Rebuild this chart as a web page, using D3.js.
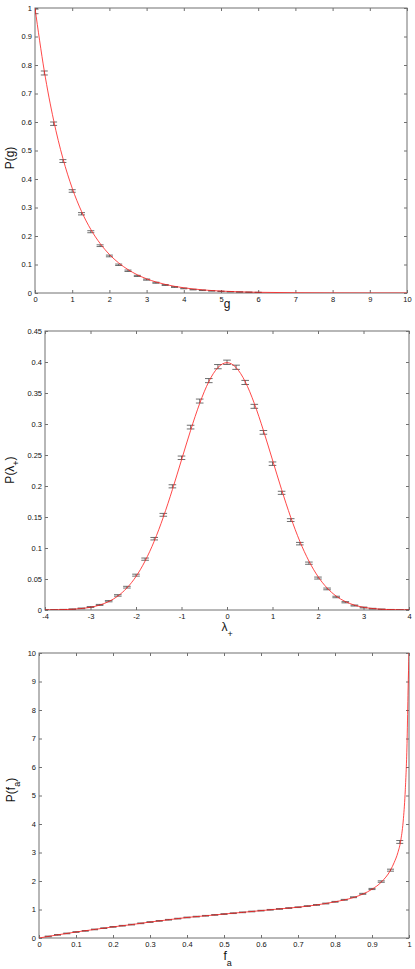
<!DOCTYPE html>
<html>
<head>
<meta charset="utf-8">
<script src="https://cdn.jsdelivr.net/npm/d3@7"></script>
<style>
  body { margin: 0; background: #fff; }
  svg { display: block; }
  text { font-family: "Liberation Sans", Arial, Helvetica, sans-serif; }
</style>
</head>
<body>
<svg id="chart" width="415" height="969"></svg>
<script>
// ---- panel 1: P(g) ----
const p1X = [0, 0.25, 0.5, 0.75, 1, 1.25, 1.5, 1.75, 2, 2.25, 2.5, 2.75, 3, 3.25, 3.5, 3.75, 4, 4.25, 4.5, 4.75, 5, 5.25, 5.5, 5.75, 6];
const p1Y = [0.988, 0.772, 0.594, 0.463, 0.358, 0.278, 0.215, 0.166, 0.130, 0.099, 0.078, 0.060, 0.047, 0.036, 0.028, 0.021, 0.016, 0.012, 0.0095, 0.0075, 0.0058, 0.0045, 0.0035, 0.0027, 0.0021];
const p1Err = [0.008, 0.007, 0.006, 0.005, 0.0045, 0.004, 0.0035, 0.003, 0.003, 0.0025, 0.0025, 0.002, 0.002, 0.0018, 0.0016, 0.0014, 0.0012, 0.0011, 0.001, 0.0009, 0.0008, 0.0007, 0.0006, 0.0006, 0.0005];
const p1CurveX = [0, 0.25, 0.5, 0.75, 1, 1.25, 1.5, 1.75, 2, 2.25, 2.5, 2.75, 3, 3.25, 3.5, 3.75, 4, 4.5, 5, 5.5, 6, 7, 8, 9, 10];
const p1CurveY = [1, 0.7788, 0.6065, 0.4724, 0.3679, 0.2865, 0.2231, 0.1738, 0.1353, 0.1054, 0.0821, 0.0639, 0.0498, 0.0388, 0.0302, 0.0235, 0.0183, 0.0111, 0.0067, 0.0041, 0.0025, 0.0009, 0.0003, 0.0001, 0.00005];
const p1XTicks = [0, 1, 2, 3, 4, 5, 6, 7, 8, 9, 10];
const p1XLabels = ['0', '1', '2', '3', '4', '5', '6', '7', '8', '9', '10'];
const p1YTicks = [0, 0.1, 0.2, 0.3, 0.4, 0.5, 0.6, 0.7, 0.8, 0.9, 1];
const p1YLabels = ['0', '0.1', '0.2', '0.3', '0.4', '0.5', '0.6', '0.7', '0.8', '0.9', '1'];

// ---- panel 2: P(lambda+) ----
const p2X = [-4, -3.8, -3.6, -3.4, -3.2, -3, -2.8, -2.6, -2.4, -2.2, -2, -1.8, -1.6, -1.4, -1.2, -1, -0.8, -0.6, -0.4, -0.2, 0,
             0.2, 0.4, 0.6, 0.8, 1, 1.2, 1.4, 1.6, 1.8, 2, 2.2, 2.4, 2.6, 2.8, 3, 3.2, 3.4, 3.6, 3.8, 4];
const p2Y = [0.0001, 0.0003, 0.0006, 0.0013, 0.0026, 0.0048, 0.0082, 0.0142, 0.0235, 0.0368, 0.0562, 0.0820, 0.1150, 0.1535, 0.1995, 0.2455, 0.2950, 0.3370, 0.3700, 0.3925, 0.3995,
             0.3915, 0.3670, 0.3285, 0.2865, 0.2360, 0.1890, 0.1450, 0.1070, 0.0755, 0.0515, 0.0340, 0.0210, 0.0125, 0.0072, 0.0040, 0.0021, 0.0011, 0.0005, 0.0002, 0.0001];
const p2Err = [0.0003, 0.0003, 0.0004, 0.0005, 0.0006, 0.0007, 0.0008, 0.001, 0.0012, 0.0014, 0.0016, 0.0018, 0.002, 0.0023, 0.0025, 0.0028, 0.003, 0.0032, 0.0033, 0.0034, 0.0035,
               0.0034, 0.0033, 0.0032, 0.003, 0.0028, 0.0025, 0.0023, 0.002, 0.0018, 0.0016, 0.0014, 0.0012, 0.001, 0.0008, 0.0007, 0.0006, 0.0005, 0.0004, 0.0003, 0.0003];
const p2CurveX = p2X;
const p2CurveY = [0.0001, 0.0003, 0.0006, 0.0012, 0.0024, 0.0044, 0.0079, 0.0136, 0.0224, 0.0355, 0.0540, 0.0790, 0.1109, 0.1497, 0.1942, 0.2420, 0.2897, 0.3332, 0.3683, 0.3910, 0.3989,
                  0.3910, 0.3683, 0.3332, 0.2897, 0.2420, 0.1942, 0.1497, 0.1109, 0.0790, 0.0540, 0.0355, 0.0224, 0.0136, 0.0079, 0.0044, 0.0024, 0.0012, 0.0006, 0.0003, 0.0001];
const p2XTicks = [-4, -3, -2, -1, 0, 1, 2, 3, 4];
const p2XLabels = ['-4', '-3', '-2', '-1', '0', '1', '2', '3', '4'];
const p2YTicks = [0, 0.05, 0.1, 0.15, 0.2, 0.25, 0.3, 0.35, 0.4, 0.45];
const p2YLabels = ['0', '0.05', '0.1', '0.15', '0.2', '0.25', '0.3', '0.35', '0.4', '0.45'];

// ---- panel 3: P(f_a) ----
const p3X = [0.025, 0.05, 0.075, 0.1, 0.125, 0.15, 0.175, 0.2, 0.225, 0.25, 0.275, 0.3, 0.325, 0.35, 0.375, 0.4, 0.425, 0.45, 0.475, 0.5,
             0.525, 0.55, 0.575, 0.6, 0.625, 0.65, 0.675, 0.7, 0.725, 0.75, 0.775, 0.8, 0.825, 0.85, 0.875, 0.9, 0.925, 0.95, 0.975];
const p3Y = [0.055, 0.11, 0.16, 0.21, 0.25, 0.30, 0.345, 0.39, 0.43, 0.47, 0.515, 0.56, 0.60, 0.64, 0.68, 0.72, 0.75, 0.78, 0.81, 0.84,
             0.87, 0.90, 0.93, 0.96, 0.99, 1.02, 1.05, 1.08, 1.12, 1.16, 1.21, 1.27, 1.34, 1.43, 1.55, 1.72, 1.98, 2.38, 3.37];
const p3Err = [0.012, 0.012, 0.012, 0.012, 0.012, 0.012, 0.012, 0.012, 0.012, 0.012, 0.012, 0.012, 0.012, 0.012, 0.012, 0.012, 0.012, 0.012, 0.012, 0.012,
               0.012, 0.012, 0.012, 0.012, 0.012, 0.012, 0.012, 0.012, 0.013, 0.013, 0.014, 0.014, 0.015, 0.015, 0.017, 0.02, 0.025, 0.035, 0.05];
const p3CurveX = [0, 0.05, 0.1, 0.15, 0.2, 0.25, 0.3, 0.35, 0.4, 0.45, 0.5, 0.55, 0.6, 0.65, 0.7, 0.75, 0.8, 0.85, 0.875, 0.9, 0.925, 0.95, 0.96, 0.97, 0.978, 0.985, 0.99, 0.995, 0.9975, 1];
const p3CurveY = [0, 0.11, 0.21, 0.30, 0.39, 0.47, 0.56, 0.64, 0.72, 0.78, 0.84, 0.90, 0.96, 1.02, 1.08, 1.16, 1.27, 1.42, 1.54, 1.71, 1.96, 2.38, 2.65, 3.0, 3.44, 4.2, 5.2, 7.0, 8.7, 10];
const p3XTicks = [0, 0.1, 0.2, 0.3, 0.4, 0.5, 0.6, 0.7, 0.8, 0.9, 1];
const p3XLabels = ['0', '0.1', '0.2', '0.3', '0.4', '0.5', '0.6', '0.7', '0.8', '0.9', '1'];
const p3YTicks = [0, 1, 2, 3, 4, 5, 6, 7, 8, 9, 10];
const p3YLabels = ['0', '1', '2', '3', '4', '5', '6', '7', '8', '9', '10'];

const AXIS_COLOR = '#707070';
const TICK_FONT = 7.5;
const svg = d3.select('#chart');

function drawPanel(p, idx) {
  const g = svg.append('g');
  const x = d3.scaleLinear().domain(p.xDomain).range([p.left, p.right]);
  const y = d3.scaleLinear().domain(p.yDomain).range([p.bottom, p.top]);

  // 裁剪区域
  const clipId = 'clip' + idx;
  svg.append('defs').append('clipPath').attr('id', clipId)
    .append('rect')
    .attr('x', p.left).attr('y', p.top)
    .attr('width', p.right - p.left).attr('height', p.bottom - p.top);

  // 坐标轴（刻度朝内）
  const bottom = g.append('g').attr('transform', `translate(0,${p.bottom})`)
    .call(d3.axisBottom(x).tickValues(p.xTicks).tickFormat((d, i) => p.xLabels[i])
      .tickSizeInner(-3).tickSizeOuter(0).tickPadding(3.8));
  const top = g.append('g').attr('transform', `translate(0,${p.top})`)
    .call(d3.axisTop(x).tickValues(p.xTicks).tickFormat('').tickSizeInner(-3).tickSizeOuter(0));
  const left = g.append('g').attr('transform', `translate(${p.left},0)`)
    .call(d3.axisLeft(y).tickValues(p.yTicks).tickFormat((d, i) => p.yLabels[i])
      .tickSizeInner(-3).tickSizeOuter(0).tickPadding(3));
  const right = g.append('g').attr('transform', `translate(${p.right},0)`)
    .call(d3.axisRight(y).tickValues(p.yTicks).tickFormat('').tickSizeInner(-3).tickSizeOuter(0));

  [bottom, top, left, right].forEach(a => {
    a.select('.domain').remove();
    a.selectAll('.tick line').attr('stroke', AXIS_COLOR);
    a.selectAll('.tick text').attr('fill', '#111').attr('font-size', TICK_FONT)
      .attr('font-family', '"Liberation Sans", Arial, sans-serif');
  });

  // 外框
  g.append('rect')
    .attr('x', p.left).attr('y', p.top)
    .attr('width', p.right - p.left).attr('height', p.bottom - p.top)
    .attr('fill', 'none').attr('stroke', AXIS_COLOR).attr('stroke-width', 1);

  // 误差棒
  const pts = p.xs.map((v, i) => ({ x: v, y: p.ys[i], e: p.errs[i] }));
  const cw = p.capHalf;
  g.append('g').attr('clip-path', `url(#${clipId})`)
    .selectAll('path')
    .data(pts)
    .enter()
    .append('path')
    .attr('d', d => {
      const cx = x(d.x), y0 = y(d.y - d.e), y1 = y(d.y + d.e);
      return `M${cx},${y0}V${y1}M${cx - cw},${y1}h${2 * cw}M${cx - cw},${y0}h${2 * cw}`;
    })
    .attr('fill', 'none')
    .attr('stroke', '#4a4a4a')
    .attr('stroke-width', 0.8);

  // 理论曲线
  const line = d3.line()
    .x(d => x(d[0]))
    .y(d => y(d[1]))
    .curve(p.curve);
  g.append('path')
    .datum(p.curveX.map((v, i) => [v, p.curveY[i]]))
    .attr('clip-path', `url(#${clipId})`)
    .attr('d', line)
    .attr('fill', 'none')
    .attr('stroke', '#ff1a1a')
    .attr('stroke-width', 0.8);

  // y 轴标题
  const yl = g.append('text')
    .attr('transform', `translate(${p.yLabelX},${p.yLabelY}) rotate(-90)`)
    .attr('text-anchor', 'middle')
    .attr('font-size', 12)
    .attr('fill', '#111');
  p.yLabel.forEach(part => {
    const t = yl.append('tspan').text(part.t);
    if (part.sub) t.attr('font-size', 9).attr('dy', 5);
    if (part.back) t.attr('dy', -5);
  });

  // x 轴标题
  const xl = g.append('text')
    .attr('x', p.xLabelX).attr('y', p.xLabelY)
    .attr('text-anchor', p.xLabelAnchor)
    .attr('font-size', 12)
    .attr('fill', '#111');
  p.xLabel.forEach(part => {
    const t = xl.append('tspan').text(part.t);
    if (part.sub) t.attr('font-size', 9).attr('dy', part.dy || 6);
  });
}

const panels = [
  {
    left: 35, right: 407, top: 8, bottom: 293,
    xDomain: [0, 10], yDomain: [0, 1],
    xTicks: p1XTicks, xLabels: p1XLabels, yTicks: p1YTicks, yLabels: p1YLabels,
    xs: p1X, ys: p1Y, errs: p1Err, capHalf: 3.5,
    curveX: p1CurveX, curveY: p1CurveY, curve: d3.curveMonotoneX,
    yLabel: [{ t: 'P(g)' }], yLabelX: 14, yLabelY: 158,
    xLabel: [{ t: 'g' }], xLabelX: 223.8, xLabelY: 308, xLabelAnchor: 'start'
  },
  {
    left: 45, right: 409, top: 331, bottom: 610,
    xDomain: [-4, 4], yDomain: [0, 0.45],
    xTicks: p2XTicks, xLabels: p2XLabels, yTicks: p2YTicks, yLabels: p2YLabels,
    xs: p2X, ys: p2Y, errs: p2Err, capHalf: 3.8,
    curveX: p2CurveX, curveY: p2CurveY, curve: d3.curveNatural,
    yLabel: [{ t: 'P(λ' }, { t: '+', sub: true }, { t: ')', back: true }], yLabelX: 14, yLabelY: 470,
    xLabel: [{ t: 'λ' }, { t: '+', sub: true, dy: 6 }], xLabelX: 221.5, xLabelY: 631, xLabelAnchor: 'start'
  },
  {
    left: 39, right: 409, top: 653, bottom: 938,
    xDomain: [0, 1], yDomain: [0, 10],
    xTicks: p3XTicks, xLabels: p3XLabels, yTicks: p3YTicks, yLabels: p3YLabels,
    xs: p3X, ys: p3Y, errs: p3Err, capHalf: 3.5,
    curveX: p3CurveX, curveY: p3CurveY, curve: d3.curveMonotoneX,
    yLabel: [{ t: 'P(f' }, { t: 'a', sub: true }, { t: ')', back: true }], yLabelX: 14.5, yLabelY: 790,
    xLabel: [{ t: 'f' }, { t: 'a', sub: true, dy: 6 }], xLabelX: 223.5, xLabelY: 959.5, xLabelAnchor: 'start'
  }
];

panels.forEach((p, i) => drawPanel(p, i));
</script>
</body>
</html>
